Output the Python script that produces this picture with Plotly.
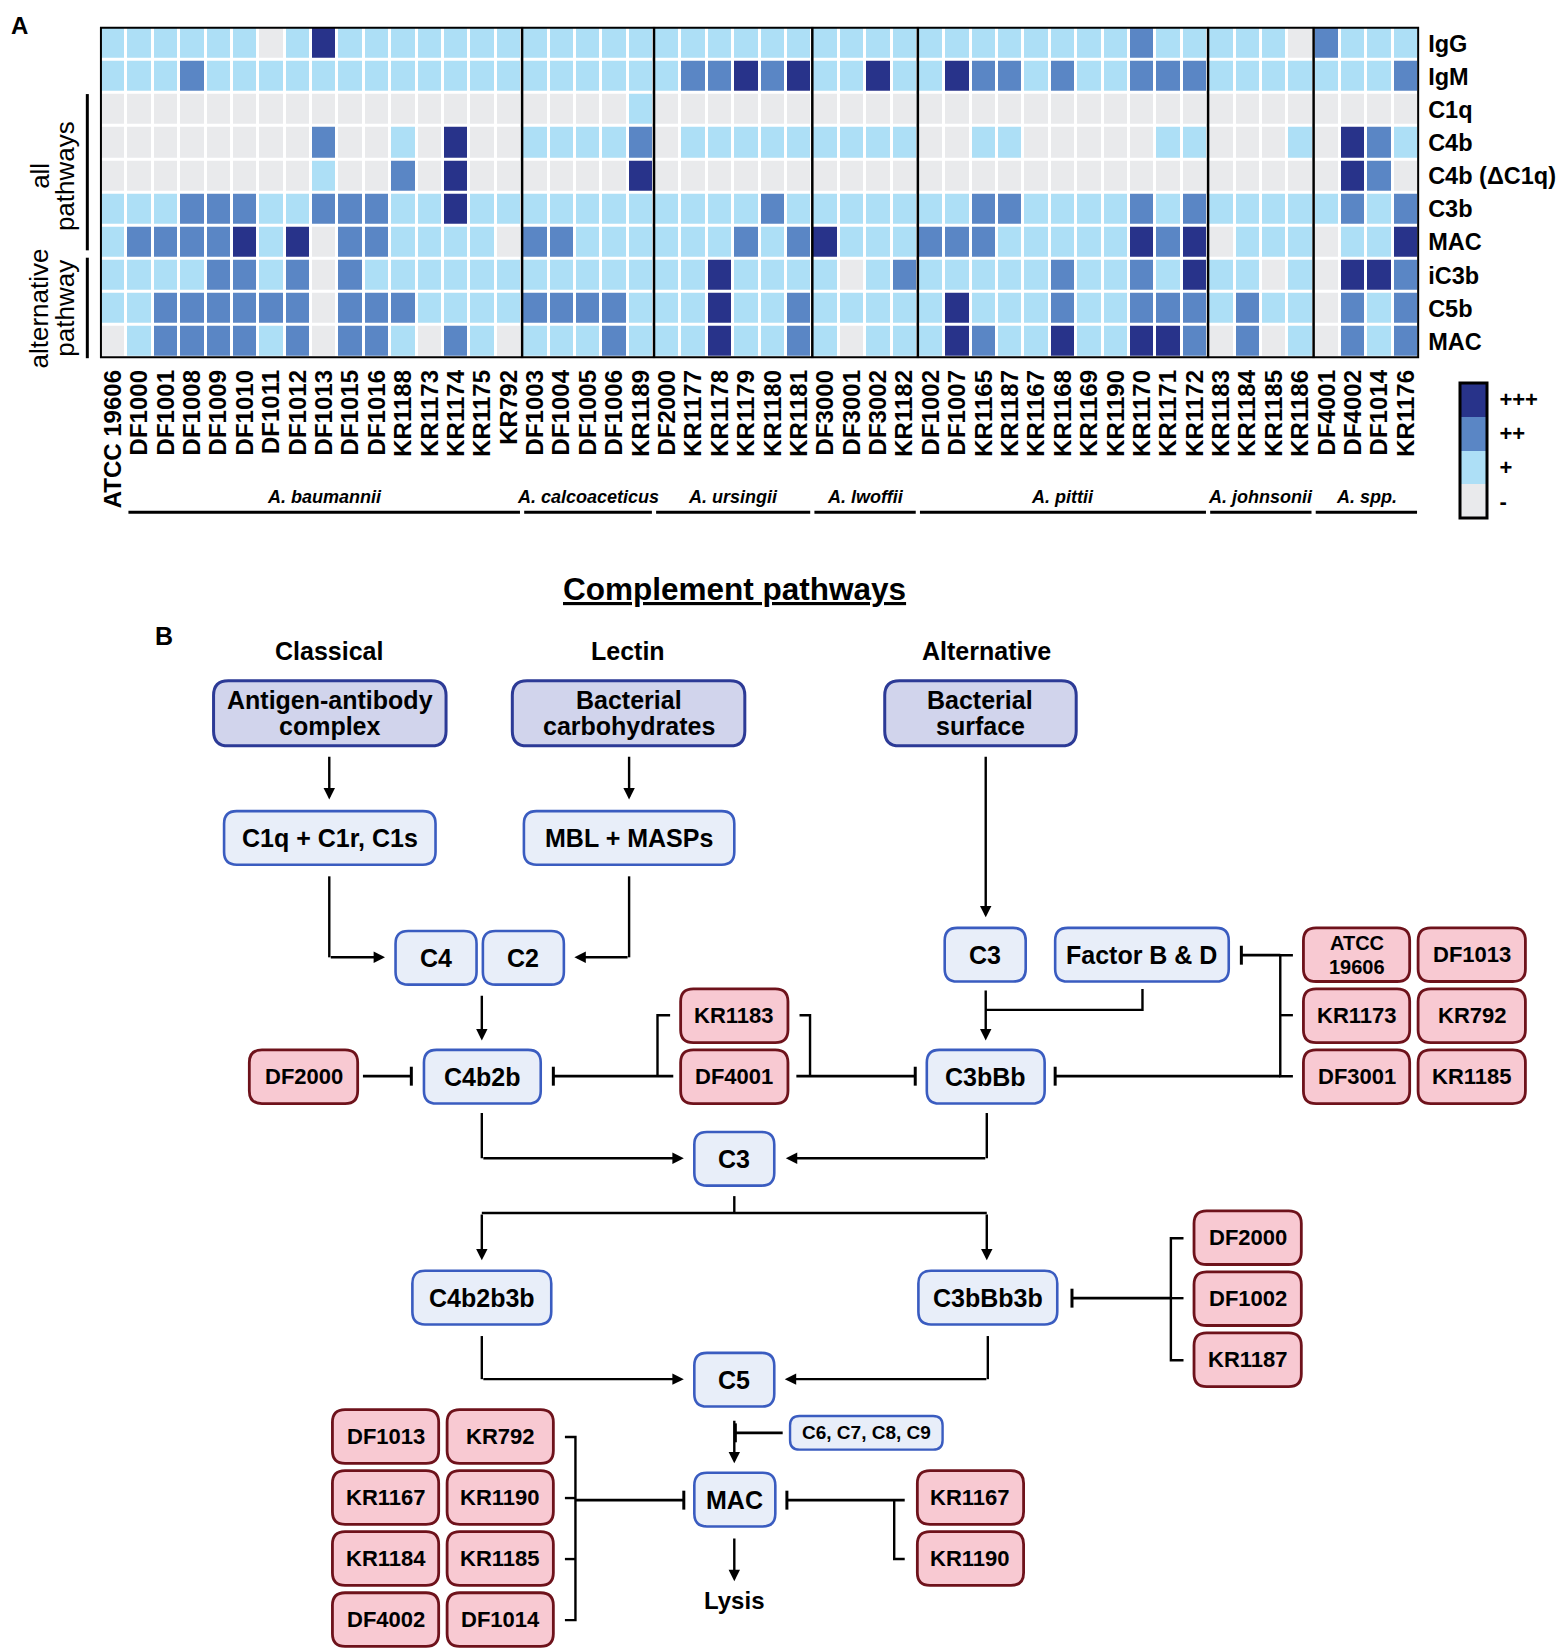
import plotly.graph_objects as go

# ---------------- figure geometry ----------------
W, H = 1564, 1650
S = 1.052                      # design units -> pixels
OFF = 8                        # page body margin (px)
PW, PH = W / S, H / S          # overlay axis spans (design units)
FONT = "Liberation Sans"

# ---------------- heatmap data ----------------
strains = ["ATCC 19606", "DF1000", "DF1001", "DF1008", "DF1009", "DF1010", "DF1011", "DF1012",
           "DF1013", "DF1015", "DF1016", "KR1188", "KR1173", "KR1174", "KR1175", "KR792",
           "DF1003", "DF1004", "DF1005", "DF1006", "KR1189",
           "DF2000", "KR1177", "KR1178", "KR1179", "KR1180", "KR1181",
           "DF3000", "DF3001", "DF3002", "KR1182",
           "DF1002", "DF1007", "KR1165", "KR1187", "KR1167", "KR1168", "KR1169", "KR1190",
           "KR1170", "KR1171", "KR1172",
           "KR1183", "KR1184", "KR1185", "KR1186",
           "DF4001", "DF4002", "DF1014", "KR1176"]
species = ["A. baumannii", "A. calcoaceticus", "A. ursingii", "A. lwoffii",
           "A. pittii", "A. johnsonii", "A. spp."]
species_n = [16, 5, 6, 4, 11, 4, 4]
row_labels = ["IgG", "IgM", "C1q", "C4b", "C4b (ΔC1q)", "C3b", "MAC", "iC3b", "C5b", "MAC"]
level_labels = ["-", "+", "++", "+++"]
level_colors = ["#E9EAEC", "#ADDFF6", "#5A86C5", "#28338A"]

igg      = [1,1,1,1,1,1,0,1,3,1,1,1, 1,1,1,1, 1,1,1,1,1, 1,1,1,1,1,1, 1,1,1,1,
            1,1,1,1,1,1,1,1,2,1,1, 1,1,1,0, 2,1,1,1]
igm      = [1,1,1,2,1,1,1,1,1,1,1,1, 1,1,1,1, 1,1,1,1,1, 1,2,2,3,2,3, 1,1,3,1,
            1,3,2,2,1,2,1,1,2,2,2, 1,1,1,1, 1,1,1,2]
c1q      = [0,0,0,0,0,0,0,0,0,0,0,0, 0,0,0,0, 0,0,0,0,1, 0,0,0,0,0,0, 0,0,0,0,
            0,0,0,0,0,0,0,0,0,0,0, 0,0,0,0, 0,0,0,0]
c4b      = [0,0,0,0,0,0,0,0,2,0,0,1, 0,3,0,0, 1,1,1,1,2, 0,1,1,1,1,1, 1,1,1,1,
            0,0,1,1,0,0,0,0,0,1,1, 0,0,0,1, 0,3,2,1]
c4b_dc1q = [0,0,0,0,0,0,0,0,1,0,0,2, 0,3,0,0, 0,0,0,0,3, 0,0,0,0,0,0, 0,0,0,0,
            0,0,0,0,0,0,0,0,0,0,0, 0,0,0,0, 0,3,2,0]
c3b      = [1,1,1,2,2,2,1,1,2,2,2,1, 1,3,1,1, 1,1,1,1,1, 1,1,1,1,2,1, 1,1,1,1,
            1,1,2,2,1,1,1,1,2,1,2, 1,1,1,1, 1,2,1,2]
mac_all  = [1,2,2,2,2,3,1,3,0,2,2,1, 1,1,1,0, 2,2,1,1,1, 1,1,1,2,1,2, 3,1,1,1,
            2,2,2,1,1,1,1,1,3,2,3, 0,1,1,1, 0,1,1,3]
ic3b     = [1,1,1,1,2,2,1,2,0,2,1,1, 1,1,1,1, 1,1,1,1,1, 1,1,3,1,1,1, 1,0,1,2,
            1,1,1,1,1,2,1,1,2,1,3, 1,1,0,1, 0,3,3,2]
c5b      = [1,1,2,2,2,2,2,2,0,2,2,2, 1,1,1,1, 2,2,2,2,1, 1,1,3,1,1,2, 1,1,1,1,
            1,3,1,1,1,2,1,1,2,2,2, 1,2,1,1, 0,2,1,2]
mac_alt  = [0,1,2,2,2,2,1,2,0,2,2,1, 0,2,1,0, 1,1,1,2,1, 1,1,3,1,1,2, 1,0,1,1,
            1,3,2,1,1,3,1,1,3,3,2, 0,2,0,1, 0,2,1,2]
z = [igg, igm, c1q, c4b, c4b_dc1q, c3b, mac_all, ic3b, c5b, mac_alt]

# ---------------- diagram content ----------------
title_text = "Complement pathways"
pathway_headers = ["Classical", "Lectin", "Alternative"]
trigger_labels = ["Antigen-antibody<br>complex", "Bacterial<br>carbohydrates", "Bacterial<br>surface"]
component_labels = ["C1q + C1r, C1s", "MBL + MASPs", "C4", "C2", "C3", "Factor B & D",
                    "C4b2b", "C3bBb", "C3", "C4b2b3b", "C3bBb3b", "C5", "MAC"]
late_label = "C6, C7, C8, C9"
inhibitor_labels = ["DF2000", "KR1183", "DF4001", "ATCC<br>19606", "DF1013", "KR1173", "KR792",
                    "DF3001", "KR1185", "DF2000", "DF1002", "KR1187",
                    "DF1013", "KR792", "KR1167", "KR1190", "KR1184", "KR1185", "DF4002", "DF1014",
                    "KR1167", "KR1190"]

# ---------------- layout constants (design units) ----------------
HX0, HX1, HY0, HY1 = 95.0, 1349.0, 25.4, 340.5
ncol, nrow = len(strains), len(row_labels)
cw = (HX1 - HX0) / ncol
rh = (HY1 - HY0) / nrow

def fx(x):   # design x -> paper fraction
    return (x * S - OFF) / W

def fy(y):   # design y (from top) -> paper fraction
    return 1 - (y * S - OFF) / H

header_pos = [(313, 619), (597, 619), (938, 619)]
trigger_pos = [(203, 647, 424, 709), (487, 647, 708, 709), (841, 647, 1023, 709)]
component_pos = [(213, 771, 414, 822), (498, 771, 698, 822), (376, 885, 453, 936),
                 (459, 885, 536, 936), (898, 882, 975, 933), (1003, 882, 1168, 933),
                 (403, 998, 514, 1049), (881, 998, 993, 1049), (660, 1076, 736, 1127),
                 (392, 1208, 524, 1259), (873, 1208, 1005, 1259), (660, 1286, 736, 1337),
                 (660, 1400, 737, 1451)]
late_pos = (751, 1346, 896, 1378)
inhibitor_pos = [(237, 998, 340, 1049), (647, 940, 749, 991), (647, 998, 749, 1049),
                 (1239, 882, 1340, 933), (1348, 882, 1450, 933),
                 (1239, 940, 1340, 991), (1348, 940, 1450, 991),
                 (1239, 998, 1340, 1049), (1348, 998, 1450, 1049),
                 (1135, 1151, 1237, 1202), (1135, 1209, 1237, 1260), (1135, 1267, 1237, 1318),
                 (316, 1340, 417, 1391), (425, 1340, 526, 1391),
                 (316, 1398, 417, 1449), (425, 1398, 526, 1449),
                 (316, 1456, 417, 1507), (425, 1456, 526, 1507),
                 (316, 1514, 417, 1565), (425, 1514, 526, 1565),
                 (872, 1398, 973, 1449), (872, 1456, 973, 1507)]

arrow_paths = [
    [(313, 718), (313, 760)], [(598, 718), (598, 760)],
    [(313, 833), (313, 910), (366, 910)], [(598, 833), (598, 910), (546, 910)],
    [(458, 945), (458, 989)], [(937, 718), (937, 872)], [(937, 940), (937, 989)],
    [(458, 1058), (458, 1101), (650, 1101)], [(938, 1058), (938, 1101), (747, 1101)],
    [(458, 1153), (458, 1198)], [(938, 1153), (938, 1198)],
    [(458, 1270), (458, 1311), (650, 1311)], [(939, 1270), (939, 1311), (746, 1311)],
    [(698, 1349), (698, 1391)], [(698, 1461), (698, 1503)],
]
plain_paths = [
    [(1086, 940), (1086, 960), (937, 960)],
    [(698, 1137), (698, 1153)], [(458, 1153), (938, 1153)],
    [(637, 965), (625, 965), (625, 1023)],
    [(760, 965), (770, 965), (770, 1023)],
    [(1229, 908), (1217, 908), (1217, 1023), (1229, 1023)], [(1217, 965), (1229, 965)],
    [(1125, 1177), (1113, 1177), (1113, 1293), (1125, 1293)], [(1113, 1234), (1125, 1234)],
    [(537, 1366), (547, 1366), (547, 1540), (537, 1540)],
    [(537, 1424), (547, 1424)], [(537, 1482), (547, 1482)],
    [(860, 1482), (850, 1482), (850, 1426)],
]
inhibit_paths = [
    [(345, 1023), (391, 1023)], [(640, 1023), (526, 1023)], [(757, 1023), (870, 1023)],
    [(1217, 908), (1180, 908)], [(1217, 1023), (1003, 1023)], [(1113, 1234), (1019, 1234)],
    [(744, 1362), (699, 1362)], [(547, 1426), (650, 1426)], [(860, 1426), (748, 1426)],
]

BIG_FILL, BIG_LINE = "#D1D4EC", "#2C3A96"
BLUE_FILL, BLUE_LINE = "#E8EEF9", "#3A5CC0"
PINK_FILL, PINK_LINE = "#F8C9D2", "#6E121B"

fig = go.Figure()

# heatmap
cs = []
for i, c in enumerate(level_colors):
    cs += [[i / 4, c], [(i + 1) / 4, c]]
fig.add_trace(go.Heatmap(
    z=z, x=list(range(ncol)), y=list(range(nrow)), zmin=-0.5, zmax=3.5,
    colorscale=cs, xgap=3, ygap=3, hoverinfo="skip",
    colorbar=dict(x=fx(1388), xanchor="left", y=fy(428), yanchor="middle",
                  len=128 * S / H, lenmode="fraction", thickness=27, thicknessmode="pixels",
                  outlinewidth=3, outlinecolor="black", xpad=0, ypad=0,
                  tickvals=[0, 1, 2, 3], ticktext=[f"<b>{t}</b>" for t in level_labels],
                  tickfont=dict(family=FONT, size=22, color="black"),
                  ticks="outside", ticklen=7, tickcolor="rgba(0,0,0,0)")))

# invisible trace for overlay axes
fig.add_trace(go.Scatter(x=[100, 200], y=[100, 200], xaxis="x2", yaxis="y2", mode="markers",
                         marker=dict(opacity=0), hoverinfo="skip", showlegend=False))

shapes, anns = [], []

def dline(pts, width=2.4, color="black"):
    p = "M" + " L".join(f"{x},{y}" for x, y in pts)
    shapes.append(dict(type="path", path=p, xref="x2", yref="y2",
                       line=dict(color=color, width=width)))

def rrect(x0, y0, x1, y1, r, fill, line, lw=3):
    p = (f"M{x0+r},{y0} L{x1-r},{y0} Q{x1},{y0} {x1},{y0+r} L{x1},{y1-r} "
         f"Q{x1},{y1} {x1-r},{y1} L{x0+r},{y1} Q{x0},{y1} {x0},{y1-r} "
         f"L{x0},{y0+r} Q{x0},{y0} {x0+r},{y0} Z")
    shapes.append(dict(type="path", path=p, xref="x2", yref="y2", fillcolor=fill,
                       line=dict(color=line, width=lw), layer="above"))

def text(t, x, y, size, bold=True, italic=False, xanchor="center", yanchor="middle",
         angle=0, color="black"):
    s = t
    if italic:
        s = f"<i>{s}</i>"
    if bold:
        s = f"<b>{s}</b>"
    anns.append(dict(text=s, x=x, y=y, xref="x2", yref="y2", showarrow=False,
                     xanchor=xanchor, yanchor=yanchor, textangle=angle,
                     font=dict(family=FONT, size=size, color=color)))

def box_text(t, x0, y0, x1, y1, size, gap):
    lines = t.split("<br>")
    cx, cy = (x0 + x1) / 2, (y0 + y1) / 2
    n = len(lines)
    for k, ln in enumerate(lines):
        text(ln, cx, cy + (k - (n - 1) / 2) * gap, size)

# ---- heatmap decorations ----
bounds = []
acc = 0
for n in species_n[:-1]:
    acc += n
    bounds.append(acc - 0.5)
for b in bounds:
    shapes.append(dict(type="line", xref="x", yref="y", x0=b, x1=b, y0=-0.5, y1=nrow - 0.5,
                       line=dict(color="black", width=2.5)))
shapes.append(dict(type="rect", xref="x", yref="y", x0=-0.5, x1=ncol - 0.5, y0=-0.5,
                   y1=nrow - 0.5, line=dict(color="black", width=4)))

acc = 0
for gi, (name, n) in enumerate(zip(species, species_n)):
    left = HX0 + (acc + (1 if gi == 0 else 0)) * cw + 2
    right = HX0 + (acc + n) * cw - 2
    dline([(left, 487), (right, 487)], width=3)
    text(name, (left + right) / 2, 472, 18, italic=True)
    acc += n

# left row-group brackets
dline([(83, HY0 + 2 * rh + 1), (83, HY0 + 7 * rh - 8)], width=3)
dline([(83, HY0 + 7 * rh - 1), (83, HY1)], width=3)
grp1 = HY0 + 4.5 * rh
grp2 = HY0 + 8.5 * rh
text("all", 38, grp1, 26, bold=False, angle=-90)
text("pathways", 62, grp1, 26, bold=False, angle=-90)
text("alternative", 38, grp2, 26, bold=False, angle=-90)
text("pathway", 62, grp2, 26, bold=False, angle=-90)
text("A", OFF / S + 1, OFF / S + 2, 24, xanchor="left", yanchor="top")

# ---- diagram ----
text(f"<u>{title_text}</u>", 698, 560, 31.5)
text("B", 145, 605, 25, xanchor="left")
for h, (x, y) in zip(pathway_headers, header_pos):
    text(h, x, y, 25)

for p in plain_paths:
    dline(p)
for p in arrow_paths:
    if len(p) > 2:
        dline(p[:-1])
    (x0, y0), (x1, y1) = p[-2], p[-1]
    anns.append(dict(text="", x=x1, y=y1, ax=x0, ay=y0, xref="x2", yref="y2",
                     axref="x2", ayref="y2", showarrow=True, arrowhead=2, arrowsize=0.95,
                     arrowwidth=2.4, arrowcolor="black", standoff=0))
for p in inhibit_paths:
    dline(p, width=2.8)
    (xe, ye) = p[-1]
    dline([(xe, ye - 9), (xe, ye + 9)], width=3)

for t, (x0, y0, x1, y1) in zip(trigger_labels, trigger_pos):
    rrect(x0, y0, x1, y1, 14, BIG_FILL, BIG_LINE, 3)
    box_text(t, x0, y0, x1, y1, 25, 25)
for t, (x0, y0, x1, y1) in zip(component_labels, component_pos):
    rrect(x0, y0, x1, y1, 12, BLUE_FILL, BLUE_LINE, 2.6)
    box_text(t, x0, y0, x1, y1, 25, 25)
x0, y0, x1, y1 = late_pos
rrect(x0, y0, x1, y1, 9, BLUE_FILL, BLUE_LINE, 2.4)
box_text(late_label, x0, y0, x1, y1, 19, 20)
for t, (x0, y0, x1, y1) in zip(inhibitor_labels, inhibitor_pos):
    rrect(x0, y0, x1, y1, 12, PINK_FILL, PINK_LINE, 2.8)
    box_text(t, x0, y0, x1, y1, 22 if "<br>" not in t else 20, 23)

text("Lysis", 698, 1521, 24)

fig.update_layout(
    width=W, height=H, margin=dict(l=0, r=0, t=0, b=0, autoexpand=False),
    paper_bgcolor="white", plot_bgcolor="rgba(0,0,0,0)", showlegend=False,
    shapes=shapes, annotations=anns,
    xaxis=dict(domain=[fx(HX0), fx(HX1)], range=[-0.5, ncol - 0.5], anchor="y",
               tickmode="array", tickvals=list(range(ncol)),
               ticktext=[f"<b>{s}</b>" for s in strains], tickangle=-90,
               tickfont=dict(family=FONT, size=24, color="black"),
               showgrid=False, zeroline=False, showline=False, ticks="",
               ticklabelstandoff=6, automargin=False, fixedrange=True),
    yaxis=dict(domain=[fy(HY1), fy(HY0)], range=[nrow - 0.5, -0.5], anchor="x",
               side="right", tickmode="array", tickvals=list(range(nrow)),
               ticktext=[f"<b>{s}</b>" for s in row_labels],
               tickfont=dict(family=FONT, size=23.5, color="black"),
               showgrid=False, zeroline=False, showline=False, ticks="",
               ticklabelstandoff=8, automargin=False, fixedrange=True),
    xaxis2=dict(domain=[0, 1], range=[OFF / S, PW + OFF / S], anchor="y2", visible=False,
                fixedrange=True),
    yaxis2=dict(domain=[0, 1], range=[PH + OFF / S, OFF / S], anchor="x2", visible=False,
                fixedrange=True),
)

fig.write_html("out.html")
